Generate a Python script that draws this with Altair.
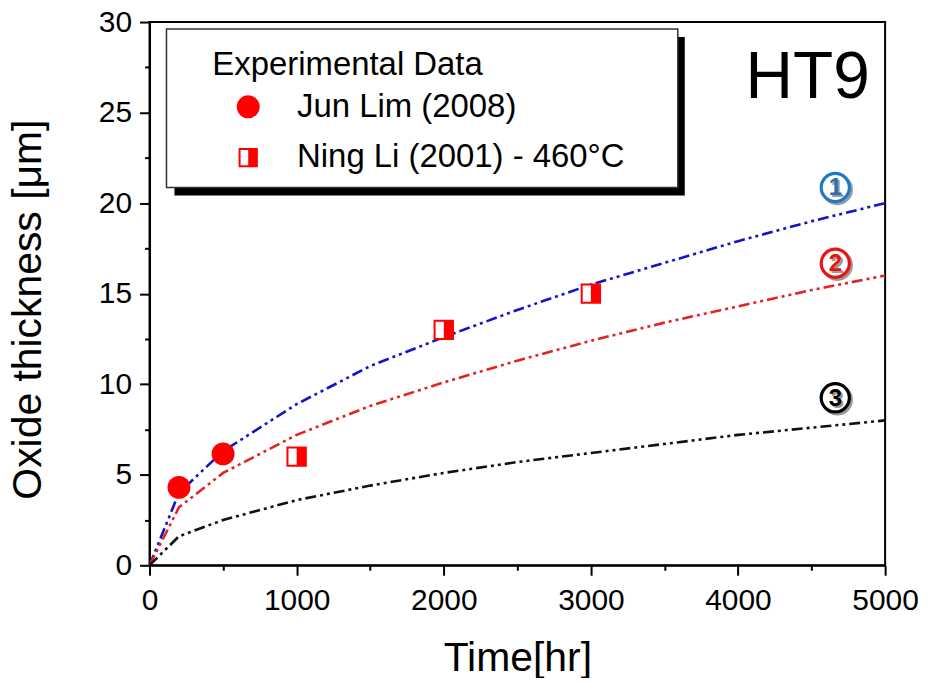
import altair as alt
import pandas as pd

# ---- data ----
time_hr = [0, 200, 500, 1000, 1500, 2000, 2500, 3000, 3500, 4000, 4500, 5000]
curve_1 = [0, 4.0, 6.3, 8.9, 11.0, 12.6, 14.1, 15.5, 16.7, 17.9, 19.0, 20.0]
curve_2 = [0, 3.2, 5.1, 7.2, 8.8, 10.1, 11.3, 12.4, 13.4, 14.3, 15.2, 16.0]
curve_3 = [0, 1.6, 2.5, 3.6, 4.4, 5.1, 5.7, 6.2, 6.7, 7.2, 7.6, 8.0]
curve_names = ["1", "2", "3"]
curve_colors = ["#1414c4", "#e42222", "#111111"]

lim_time = [200, 500]
lim_thick = [4.3, 6.15]
li_time = [1000, 2000, 3000]
li_thick = [6.0, 13.0, 15.0]

x_major = [0, 1000, 2000, 3000, 4000, 5000]
x_minor = [500, 1500, 2500, 3500, 4500]
y_major = [0, 5, 10, 15, 20, 25, 30]
y_minor = [2.5, 7.5, 12.5, 17.5, 22.5, 27.5]

legend_title = "Experimental Data"
legend_labels = ["Jun Lim (2008)", "Ning Li (2001) - 460°C"]
panel_label = "HT9"
mark_labels = ["1", "2", "3"]
mark_colors = ["#1f78c8", "#ee1111", "#000000"]
mark_text_colors = ["#2a6db8", "#ee1111", "#000000"]

RED = "#ff0000"
FONT = "Liberation Sans"

W, H = 738, 545

# ---- tables ----
rows = []
for name, vals in zip(curve_names, [curve_1, curve_2, curve_3]):
    for t, v in zip(time_hr, vals):
        rows.append({"t": t, "v": v, "curve": name})
lines_df = pd.DataFrame(rows)
lim_df = pd.DataFrame({"t": lim_time, "v": lim_thick})
li_df = pd.DataFrame({"t": li_time, "v": li_thick})

xs = alt.Scale(domain=[0, 5000], nice=False, zero=False)
ys = alt.Scale(domain=[0, 30], nice=False, zero=False)

common_axis = dict(
    grid=False, domainColor="black", domainWidth=2, tickColor="black",
    tickWidth=2, labelColor="black", labelFont=FONT, labelFontSize=30,
    titleFont=FONT, titleFontSize=41, titleFontWeight="normal",
    titleColor="black", labelOverlap=False,
)

x_axis = alt.Axis(values=x_major, format="d", tickSize=10, labelPadding=10,
                  title="Time[hr]", titlePadding=24, labelFlush=False,
                  orient="bottom", **common_axis)
y_axis = alt.Axis(values=y_major, format="d", tickSize=10, labelPadding=8,
                  title="Oxide thickness [μm]", titlePadding=49, titleY=288,
                  orient="left", **common_axis)

x_minor_axis = alt.Axis(values=x_minor, labels=False, tickSize=5, tickWidth=2,
                        tickColor="black", domain=False, grid=False,
                        title=None, orient="bottom")
y_minor_axis = alt.Axis(values=y_minor, labels=False, tickSize=5, tickWidth=2,
                        tickColor="black", domain=False, grid=False,
                        title=None, orient="left")

lines = alt.Chart(lines_df).mark_line(
    strokeWidth=2.6, strokeDash=[11, 4, 3, 4, 3, 4], clip=True
).encode(
    x=alt.X("t:Q", scale=xs, axis=x_axis),
    y=alt.Y("v:Q", scale=ys, axis=y_axis),
    color=alt.Color("curve:N", scale=alt.Scale(domain=curve_names, range=curve_colors), legend=None),
    detail="curve:N",
)

minor = alt.Chart(lines_df).mark_point(opacity=0).encode(
    x=alt.X("t:Q", scale=xs, axis=x_minor_axis),
    y=alt.Y("v:Q", scale=ys, axis=y_minor_axis),
)

lim_pts = alt.Chart(lim_df).mark_point(
    shape="circle", filled=True, color=RED, size=529, opacity=1
).encode(
    x=alt.X("t:Q", scale=xs, axis=None),
    y=alt.Y("v:Q", scale=ys, axis=None),
)

li_box = alt.Chart(li_df).mark_point(
    shape="square", fill="white", stroke=RED, strokeWidth=2, size=340, opacity=1, filled=False
).encode(
    x=alt.X("t:Q", scale=xs, axis=None),
    y=alt.Y("v:Q", scale=ys, axis=None),
)
li_fill = alt.Chart(li_df).mark_point(
    shape="M0,-1L1,-1L1,1L0,1Z", filled=True, color=RED, size=340, opacity=1
).encode(
    x=alt.X("t:Q", scale=xs, axis=None),
    y=alt.Y("v:Q", scale=ys, axis=None),
)

one = pd.DataFrame({"k": [0]})

# legend box with shadow
shadow = alt.Chart(one).mark_rect(color="black").encode(
    x=alt.value(25), x2=alt.value(537), y=alt.value(15), y2=alt.value(174)
)
box = alt.Chart(one).mark_rect(fill="white", stroke="#333333", strokeWidth=1.5).encode(
    x=alt.value(17), x2=alt.value(530), y=alt.value(7), y2=alt.value(166)
)
leg_title = alt.Chart(one).mark_text(
    align="left", baseline="alphabetic", font=FONT, fontSize=33, color="black"
).encode(x=alt.value(63), y=alt.value(53), text=alt.value(legend_title))
leg_t1 = alt.Chart(one).mark_text(
    align="left", baseline="alphabetic", font=FONT, fontSize=33, color="black"
).encode(x=alt.value(148), y=alt.value(95), text=alt.value(legend_labels[0]))
leg_t2 = alt.Chart(one).mark_text(
    align="left", baseline="alphabetic", font=FONT, fontSize=33, color="black"
).encode(x=alt.value(148), y=alt.value(145), text=alt.value(legend_labels[1]))
leg_c = alt.Chart(one).mark_point(
    shape="circle", filled=True, color=RED, size=529, opacity=1
).encode(x=alt.value(99), y=alt.value(85))
leg_sq = alt.Chart(one).mark_point(
    shape="square", fill="white", stroke=RED, strokeWidth=2, size=300, opacity=1, filled=False
).encode(x=alt.value(99), y=alt.value(136))
leg_sq_fill = alt.Chart(one).mark_point(
    shape="M0,-1L1,-1L1,1L0,1Z", filled=True, color=RED, size=300, opacity=1
).encode(x=alt.value(99), y=alt.value(136))

ht9 = alt.Chart(one).mark_text(
    align="left", baseline="alphabetic", font=FONT, fontSize=66, color="black"
).encode(x=alt.value(598), y=alt.value(76), text=alt.value(panel_label))

# circled curve numbers
circ_layers = []
for lbl, col, tcol, py in zip(mark_labels, mark_colors, mark_text_colors, [166, 242, 377]):
    circ_layers.append(alt.Chart(one).mark_point(
        shape="circle", filled=False, stroke="#9a9a9a", strokeWidth=3.2, size=800, opacity=1
    ).encode(x=alt.value(690), y=alt.value(py + 2)))
    circ_layers.append(alt.Chart(one).mark_point(
        shape="circle", filled=False, fill="white", stroke=col, strokeWidth=3.2, size=800, opacity=1
    ).encode(x=alt.value(688), y=alt.value(py)))
    circ_layers.append(alt.Chart(one).mark_text(
        align="center", baseline="middle", font=FONT, fontSize=24, fontWeight="bold", color="#9a9a9a"
    ).encode(x=alt.value(690), y=alt.value(py + 3), text=alt.value(lbl)))
    circ_layers.append(alt.Chart(one).mark_text(
        align="center", baseline="middle", font=FONT, fontSize=24, fontWeight="bold", color=tcol
    ).encode(x=alt.value(688), y=alt.value(py + 1), text=alt.value(lbl)))

chart = alt.layer(
    lines, minor, lim_pts, li_box, li_fill,
    shadow, box, leg_title, leg_t1, leg_t2, leg_c, leg_sq, leg_sq_fill,
    ht9, *circ_layers,
).resolve_axis(
    x="independent", y="independent"
).properties(
    width=W, height=H,
    padding={"left": 142, "top": 13, "right": 36, "bottom": 112},
    autosize=alt.AutoSizeParams(type="none"),
    background="white",
).configure_view(
    stroke="black", strokeWidth=2
)

chart.save("out.html", embed_options={"renderer": "svg", "actions": False})
